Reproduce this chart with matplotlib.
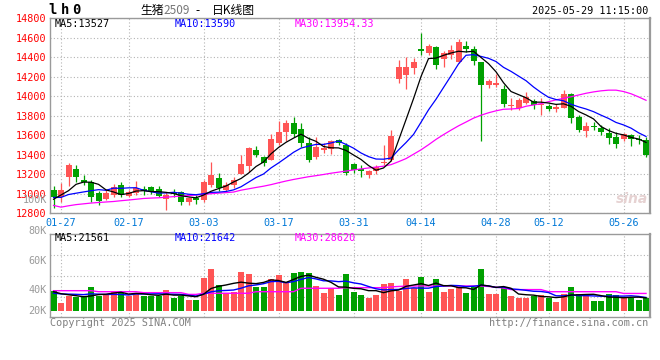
import numpy as np
import pandas as pd
import matplotlib
matplotlib.use('Agg')
import matplotlib.pyplot as plt

# daily K-line, 01-24 .. 05-29 (80 trading days)
open_ = [13040, 12970, 13175, 13255, 13140, 13125, 13005, 12945, 12985, 13090,
         12980, 13005, 13050, 13070, 13045, 12945, 13020, 13015, 12910, 12955,
         12935, 13090, 13160, 13040, 13090, 13200, 13285, 13450, 13375, 13345,
         13525, 13630, 13730, 13665, 13525, 13380, 13450, 13455, 13550, 13500,
         13305, 13250, 13190, 13235, 13310, 13345, 14180, 14215, 14285, 14480,
         14445, 14500, 14380, 14420, 14350, 14520, 14480, 14350, 14120, 14110,
         14075, 13900, 13880, 13935, 13950, 13910, 13900, 13865, 13880, 14025,
         13790, 13645, 13695, 13670, 13625, 13580, 13560, 13600, 13560, 13550]
high = [13080, 13105, 13320, 13295, 13190, 13145, 13030, 13040, 13095, 13125,
        13040, 13130, 13080, 13080, 13080, 13020, 13045, 13030, 12970, 12985,
        13145, 13330, 13210, 13125, 13175, 13395, 13480, 13490, 13385, 13610,
        13745, 13755, 13790, 13730, 13580, 13580, 13525, 13550, 13560, 13515,
        13310, 13295, 13245, 13295, 13500, 13655, 14370, 14405, 14395, 14645,
        14540, 14520, 14465, 14525, 14585, 14565, 14515, 14355, 14180, 14230,
        14120, 13980, 13980, 14040, 13970, 13985, 13925, 13925, 14065, 14030,
        13805, 13740, 13740, 13700, 13675, 13635, 13620, 13610, 13600, 13585]
low = [12855, 12920, 13080, 13125, 13090, 12920, 12885, 12935, 12970, 12970,
       12970, 12985, 12985, 12995, 12965, 12835, 12970, 12885, 12885, 12895,
       12920, 13070, 13030, 13020, 13055, 13200, 13225, 13375, 13285, 13345,
       13500, 13540, 13580, 13480, 13330, 13355, 13415, 13405, 13500, 13190,
       13215, 13170, 13165, 13200, 13295, 13340, 14140, 14075, 14230, 14420,
       14420, 14275, 14300, 14385, 14345, 14455, 14320, 13545, 14080, 14090,
       13890, 13860, 13860, 13915, 13865, 13805, 13850, 13840, 13880, 13730,
       13635, 13585, 13655, 13600, 13505, 13465, 13540, 13490, 13505, 13380]
close = [12970, 13040, 13295, 13170, 13120, 12965, 12930, 13010, 13065, 12985,
         13020, 13055, 13030, 13020, 12980, 12985, 12995, 12920, 12955, 12935,
         13125, 13190, 13055, 13090, 13140, 13305, 13465, 13395, 13320, 13560,
         13630, 13730, 13610, 13520, 13345, 13480, 13465, 13545, 13515, 13215,
         13245, 13235, 13235, 13275, 13330, 13595, 14300, 14300, 14350, 14465,
         14515, 14325, 14440, 14470, 14555, 14480, 14360, 14120, 14155, 14135,
         13920, 13910, 13960, 13995, 13910, 13920, 13865, 13890, 14025, 13780,
         13655, 13690, 13685, 13635, 13575, 13510, 13610, 13560, 13550, 13400]
volume = [32700, 13300, 24400, 23200, 22100, 39300, 24400, 27700, 32700, 28700,
          24400, 29900, 24400, 24400, 24400, 34400, 21600, 24400, 17800, 17800,
          54800, 69200, 42700, 28700, 31500, 64700, 60900, 38700, 38700, 52600,
          59300, 45300, 63100, 64200, 63100, 41000, 29900, 37000, 26100, 60900,
          31500, 26100, 21600, 26100, 44300, 46500, 32700, 52600, 37000, 55300,
          31500, 52600, 31500, 36000, 39800, 29900, 38700, 69200, 27700, 27700,
          37000, 24400, 21600, 21600, 24400, 26100, 21600, 14900, 27700, 39800,
          27700, 24400, 16600, 16600, 27700, 26100, 20400, 20400, 17800, 21600]

# sessions before 01-24, needed to start the short averages
prior_close = [13040, 13000, 13035, 12990, 12840, 12820, 13075, 12845, 13005]
prior_volume = [25000, 28000, 26500, 27000, 26000, 30000, 33000, 31000, 30800]

# 30-day averages as drawn
ma30_price = [12880, 12862, 12876, 12888, 12896, 12904, 12910, 12915, 12920, 12928,
              12935, 12943, 12951, 12955, 12958, 12964, 12970, 12976, 12981, 12986,
              12992, 13000, 13006, 13011, 13017, 13036, 13050, 13064, 13077, 13093,
              13112, 13130, 13146, 13160, 13174, 13185, 13197, 13210, 13221, 13232,
              13244, 13254, 13264, 13273, 13282, 13298, 13328, 13360, 13405, 13450,
              13502, 13557, 13606, 13652, 13696, 13735, 13775, 13805, 13830, 13850,
              13866, 13869, 13874, 13897, 13910, 13924, 13944, 13962, 13978, 13994,
              14012, 14030, 14044, 14055, 14062, 14062, 14048, 14025, 13993, 13958]
ma30_volume = [33200, 33200, 33200, 33200, 33200, 33200, 31500, 31500, 31500, 31500,
               31500, 31500, 29900, 29900, 29900, 29900, 29900, 29900, 27000, 27000,
               28900, 28900, 28900, 28900, 28900, 28900, 28900, 31500, 31500, 31500,
               31500, 31500, 31500, 37200, 37200, 37200, 37200, 37200, 37200, 38200,
               38200, 38200, 38200, 38200, 38200, 39500, 40200, 40800, 41000, 41000,
               41000, 41000, 41000, 41000, 41000, 41000, 41000, 41000, 40200, 39000,
               37500, 35000, 35000, 35000, 35000, 35000, 31500, 31500, 31500, 31500,
               31500, 31500, 31500, 31500, 31500, 31500, 28600, 28600, 28600, 28600]

date_ticks = [1, 10, 20, 30, 40, 49, 59, 66, 76]
date_labels = ['01-27', '02-17', '03-03', '03-17', '03-31', '04-14', '04-28', '05-12', '05-26']
price_ticks = [12800, 13000, 13200, 13400, 13600, 13800, 14000, 14200, 14400, 14600, 14800]
vol_labels = ['80K', '60K', '40K', '20K']
vol_label_px = [231, 261, 290, 311]   # label rows, pixels from top

price_ma_text = ['MA5:13527', 'MA10:13590', 'MA30:13954.33']
vol_ma_text = ['MA5:21561', 'MA10:21642', 'MA30:28620']
ma_colors = ['black', '#0000ff', '#ff00ff']

RED = '#ff5555'
GREEN = '#00a000'
GRID = '#b4b4b4'
MONO = 'DejaVu Sans Mono'

o = np.array(open_)
h = np.array(high)
l = np.array(low)
c = np.array(close)
v = np.array(volume)
x = np.arange(len(c))
up = c >= o
colors = np.where(up, RED, GREEN)

cs = pd.Series(prior_close + close, dtype=float)
ma5 = cs.rolling(5).mean().values[len(prior_close):]
ma10 = cs.rolling(10).mean().values[len(prior_close):]
vs = pd.Series(prior_volume + volume, dtype=float)
vma5 = vs.rolling(5).mean().values[len(prior_volume):]
vma10 = vs.rolling(10).mean().values[len(prior_volume):]

W, H = 660, 360
fig = plt.figure(figsize=(6.6, 3.6), dpi=100)


def px_axes(left, top, right, bottom):
    return fig.add_axes([left / W, 1 - bottom / H, (right - left) / W, (bottom - top) / H])


ax = px_axes(50, 18.2, 650, 213.2)
axv = px_axes(50, 234.3, 650, 317.3)

xlim = (-0.47, 79.53)

# --- price panel
body_bot = np.minimum(o, c)
body_h = np.maximum(np.abs(c - o), 10)
ax.vlines(x, l, h, colors=colors, lw=0.9, zorder=3)
ax.bar(x, body_h, bottom=body_bot, width=0.8, color=colors, lw=0, zorder=4)
ax.plot(x, ma30_price, color=ma_colors[2], lw=0.9, zorder=5)
ax.plot(x, ma10, color=ma_colors[1], lw=0.9, zorder=5)
ax.plot(x, ma5, color=ma_colors[0], lw=0.9, zorder=6)

ax.set_xlim(*xlim)
ax.set_ylim(12800, 14800)
ax.set_yticks(price_ticks)
ax.set_yticklabels([str(p) for p in price_ticks], color='red', fontsize=7.3, family=MONO)
ax.set_xticks(date_ticks)
ax.set_xticklabels(date_labels, color='#0078d7', fontsize=7.3, family=MONO)
ax.tick_params(axis='y', length=0, pad=2.6)
ax.tick_params(axis='x', length=0, pad=3.2)
ax.grid(True, color=GRID, ls=(0, (1, 2)), lw=0.8)

for i, (txt, col) in enumerate(zip(price_ma_text, ma_colors)):
    ax.text(0.0085 + i * 0.2, 0.97, txt, transform=ax.transAxes, color=col,
            fontsize=7.3, family=MONO, va='center', ha='left', zorder=7)

# --- volume panel
axv.bar(x, v, width=0.8, color=colors, lw=0, zorder=3)
axv.plot(x, ma30_volume, color=ma_colors[2], lw=1, zorder=4)
axv.plot(x, vma10, color=ma_colors[1], lw=1, zorder=4)
axv.plot(x, vma5, color=ma_colors[0], lw=1, zorder=5)
axv.set_xlim(*xlim)
vlo, vhi = -11000, 126800
axv.set_ylim(vlo, vhi)
axv.set_yticks(np.linspace(vlo, vhi, 5)[1:-1])
axv.set_yticklabels([])
axv.set_xticks(date_ticks)
axv.set_xticklabels([])
axv.tick_params(length=0)
axv.grid(True, color=GRID, ls=(0, (1, 2)), lw=0.8)

for i, (txt, col) in enumerate(zip(vol_ma_text, ma_colors)):
    axv.text(0.0085 + i * 0.2, 0.952, txt, transform=axv.transAxes, color=col,
             fontsize=7.3, family=MONO, va='center', ha='left', zorder=7)

for a in (ax, axv):
    for s in a.spines.values():
        s.set_color('#9a9a9a')
        s.set_linewidth(1)
    a.spines['right'].set_linewidth(1.6)
    a.set_facecolor('white')

for lab, ypx in zip(vol_labels, vol_label_px):
    fig.text(47 / W, 1 - ypx / H, lab, color='#9a9a9a', fontsize=7.3, family=MONO,
             ha='right', va='center')
fig.text(47 / W, 1 - 200 / H, '100K', color='#9a9a9a', fontsize=7.3, family=MONO,
         ha='right', va='center')

# --- header
for ch, xp in zip('lh0', [52.5, 65, 76.5]):
    fig.text(xp / W, 1 - 10.5 / H, ch, fontsize=10, family=MONO, weight='bold',
             ha='center', va='center')
cjk = ['Noto Sans CJK SC', 'DejaVu Sans']
fig.text(140 / W, 1 - 10.5 / H, '生猪', fontsize=8.5, family=cjk, ha='left', va='center')
fig.text(163 / W, 1 - 10.5 / H, '2509', fontsize=8.5, family=cjk, color='#777777',
         ha='left', va='center')
fig.text(195 / W, 1 - 10.5 / H, '-', fontsize=8.5, family=cjk, ha='left', va='center')
fig.text(212 / W, 1 - 10.5 / H, '日K线图', fontsize=8.5, family=cjk, ha='left', va='center')
fig.text(648 / W, 1 - 11.5 / H, '2025-05-29 11:15:00', fontsize=7.3, family=MONO,
         ha='right', va='center')

# --- footer and watermark
fig.text(50 / W, 1 - 323.5 / H, 'Copyright 2025 SINA.COM', fontsize=7.3, family=MONO,
         color='#808080', ha='left', va='center')
fig.text(648 / W, 1 - 323.5 / H, 'http://finance.sina.com.cn', fontsize=7.3, family=MONO,
         color='#808080', ha='right', va='center')
fig.text(648 / W, 1 - 199 / H, 'sina', fontsize=10, style='italic', weight='bold',
         color='#e6d2d2', ha='right', va='center')

fig.savefig('out.png', dpi=100, facecolor='white')
